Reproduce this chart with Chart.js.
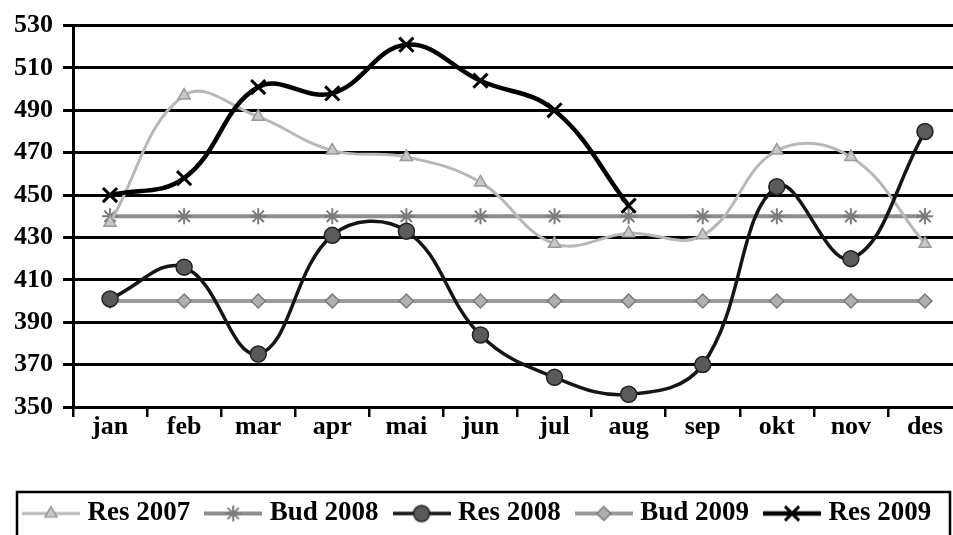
<!DOCTYPE html>
<html>
<head>
<meta charset="utf-8">
<script src="https://cdn.jsdelivr.net/npm/chart.js@4.4.1/dist/chart.umd.min.js"></script>
<style>
  html, body { margin: 0; padding: 0; background: #fff; overflow: hidden; }
  #wrap { width: 975px; height: 545px; }
</style>
</head>
<body>
<div id="wrap"><canvas id="c" width="975" height="545"></canvas></div>
<script>
const categories = ['jan','feb','mar','apr','mai','jun','jul','aug','sep','okt','nov','des'];
const seriesNames = ['Res 2007','Bud 2008','Res 2008','Bud 2009','Res 2009'];
const res2007 = [437, 497, 487, 471, 468, 456, 427, 432, 431, 471, 468, 427];
const bud2008 = [440, 440, 440, 440, 440, 440, 440, 440, 440, 440, 440, 440];
const res2008 = [401, 416, 375, 431, 433, 384, 364, 356, 370, 454, 420, 480];
const bud2009 = [400, 400, 400, 400, 400, 400, 400, 400, 400, 400, 400, 400];
const res2009 = [450, 458, 501, 498, 521, 504, 490, 445, null, null, null, null];
const yTicks = {min: 350, max: 530, step: 20};

const FONT = "'Liberation Serif', 'Times New Roman', serif";

const styles = [
  {line: '#b8b8b8', lw: 3,   point: 'triangle', pr: 7,  pfill: '#c8c8c8', pborder: '#9a9a9a', pbw: 1.5, order: 2},
  {line: '#8e8e8e', lw: 4,   point: 'star',     pr: 8,  pfill: '#999',    pborder: '#7a7a7a', pbw: 2,   order: 3},
  {line: '#151515', lw: 3.5, point: 'circle',   pr: 8,  pfill: '#5a5a5a', pborder: '#222',    pbw: 1.5, order: 1},
  {line: '#9a9a9a', lw: 4,   point: 'rectRot',  pr: 7,  pfill: '#b0b0b0', pborder: '#7a7a7a', pbw: 1.5, order: 4},
  {line: '#000000', lw: 4.5, point: 'crossRot', pr: 10, pfill: '#000',    pborder: '#000',    pbw: 3,   order: 0}
];
const seriesData = [res2007, bud2008, res2008, bud2009, res2009];

function makeIcon(s) {
  const cv = document.createElement('canvas');
  cv.width = 58; cv.height = 22;
  const ctx = cv.getContext('2d');
  ctx.strokeStyle = s.line;
  ctx.lineWidth = s.lw;
  ctx.beginPath(); ctx.moveTo(0, 11); ctx.lineTo(58, 11); ctx.stroke();
  ctx.fillStyle = s.pfill;
  ctx.strokeStyle = s.pborder;
  ctx.lineWidth = s.pbw;
  Chart.helpers.drawPoint(ctx, {pointStyle: s.point, radius: s.pr, rotation: 0, borderWidth: s.pbw}, 29, 11);
  return cv;
}
const icons = styles.map(makeIcon);

const datasets = seriesNames.map((name, i) => ({
  label: name,
  data: seriesData[i],
  borderColor: styles[i].line,
  borderWidth: styles[i].lw,
  pointStyle: styles[i].point,
  pointRadius: styles[i].pr,
  pointBackgroundColor: styles[i].pfill,
  pointBorderColor: styles[i].pborder,
  pointBorderWidth: styles[i].pbw,
  tension: 0.4,
  fill: false,
  order: styles[i].order,
  spanGaps: false
}));

const legendFrame = {
  id: 'legendFrame',
  afterDraw(chart) {
    const lg = chart.legend;
    const ctx = chart.ctx;
    ctx.save();
    ctx.strokeStyle = '#000';
    ctx.lineWidth = 2.5;
    ctx.strokeRect(lg.left + 9, lg.top + 12, 933, lg.height + 30);
    ctx.restore();
  }
};

new Chart(document.getElementById('c'), {
  type: 'line',
  data: { labels: categories, datasets },
  plugins: [legendFrame],
  options: {
    responsive: false,
    animation: false,
    devicePixelRatio: 1,
    layout: { padding: { left: 8, right: 12, top: 25, bottom: 8 } },
    plugins: {
      tooltip: { enabled: false },
      legend: {
        position: 'bottom',
        align: 'start',
        labels: {
          usePointStyle: true,
          pointStyleWidth: 46,
          boxHeight: 26,
          padding: 20,
          color: '#000',
          font: { family: FONT, size: 27, weight: 'bold' },
          generateLabels(chart) {
            const items = Chart.defaults.plugins.legend.labels.generateLabels(chart);
            items.sort((a, b) => a.datasetIndex - b.datasetIndex);
            items.forEach(it => { it.pointStyle = icons[it.datasetIndex]; it.lineWidth = 0; });
            return items;
          }
        }
      }
    },
    scales: {
      x: {
        offset: true,
        grid: { display: true, drawOnChartArea: false, drawTicks: true, tickLength: 10, color: '#000', lineWidth: 2.5, offset: true },
        border: { display: true, color: '#000', width: 3 },
        ticks: { color: '#000', padding: -5, font: { family: FONT, size: 26, weight: 'bold' }, maxRotation: 0, autoSkip: false },
        afterFit(scale) { scale.height = 73; }
      },
      y: {
        min: yTicks.min,
        max: yTicks.max,
        grid: { color: '#000', lineWidth: 3, tickLength: 10, drawTicks: true },
        border: { display: true, color: '#000', width: 3 },
        ticks: { stepSize: yTicks.step, color: '#000', padding: 10, font: { family: FONT, size: 26, weight: 'bold' } },
        afterFit(scale) { scale.width = 65; }
      }
    }
  }
});
</script>
</body>
</html>
